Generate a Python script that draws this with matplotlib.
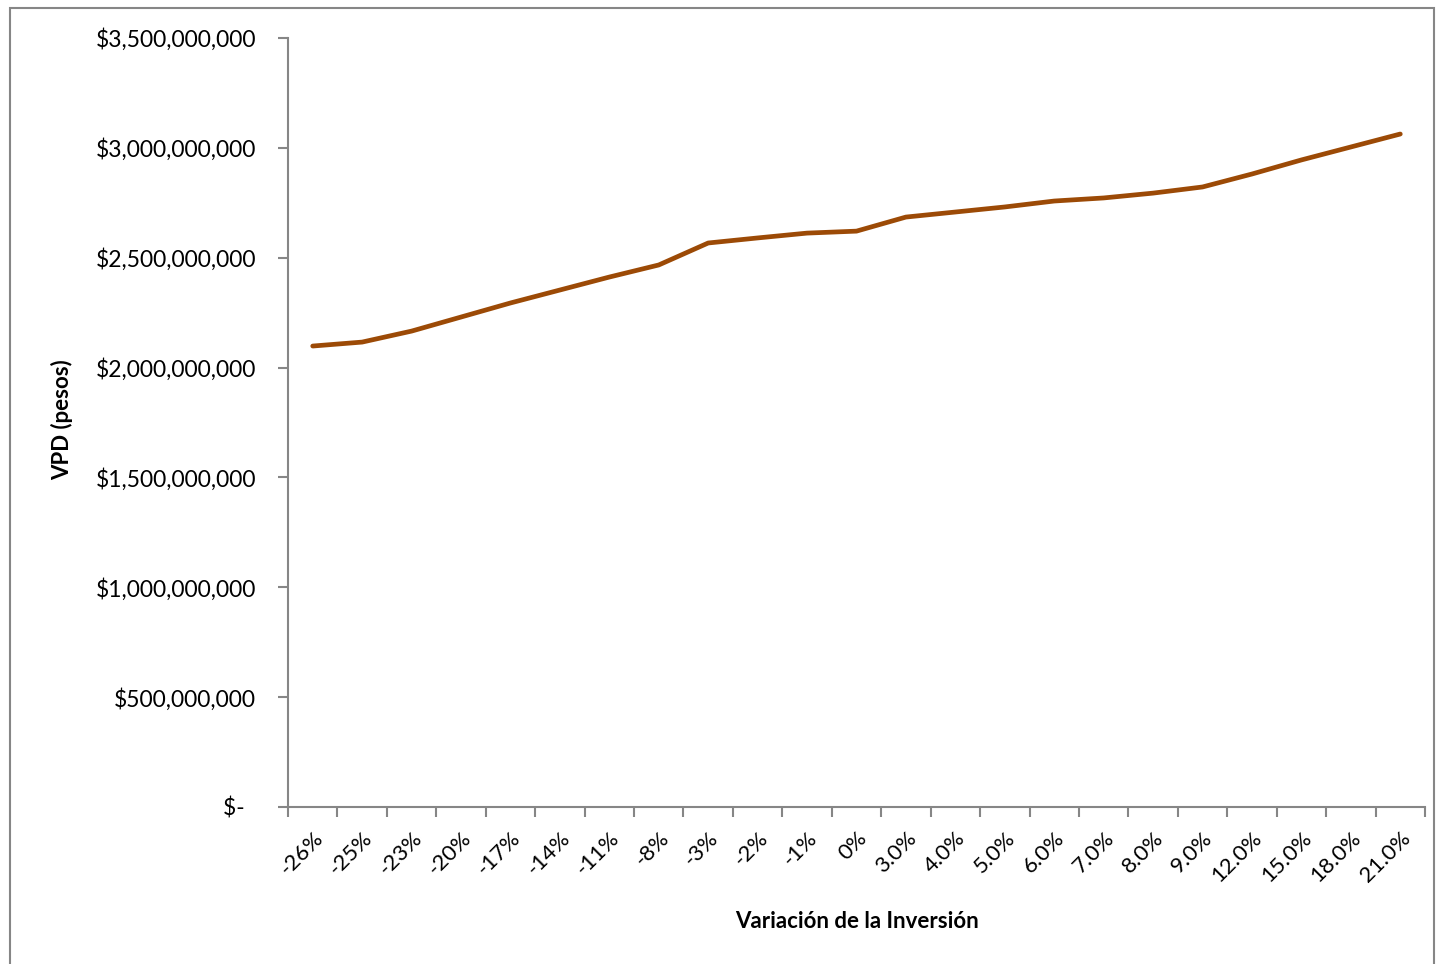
import numpy as np
import matplotlib.pyplot as plt
from matplotlib.patches import Rectangle
from matplotlib.ticker import FuncFormatter, FixedLocator

# variación de la inversión vs VPD
variacion = ['-26%', '-25%', '-23%', '-20%', '-17%', '-14%', '-11%', '-8%',
             '-3%', '-2%', '-1%', '0%', '3.0%', '4.0%', '5.0%', '6.0%',
             '7.0%', '8.0%', '9.0%', '12.0%', '15.0%', '18.0%', '21.0%']
vpd = [2098e6, 2116e6, 2166e6, 2230e6, 2294e6, 2353e6, 2412e6, 2467e6,
       2567e6, 2590e6, 2612e6, 2621e6, 2685e6, 2708e6, 2731e6, 2758e6,
       2772e6, 2794e6, 2822e6, 2881e6, 2945e6, 3004e6, 3063e6]

plt.rcParams['font.family'] = ['Lato', 'DejaVu Sans']
gris = '#868686'

fig = plt.figure(figsize=(14.37, 9.64), dpi=100)
ax = fig.add_axes([288/1437, 1 - 807/964, (1425 - 288)/1437, (807 - 38)/964])

x = np.arange(len(variacion))
ax.plot(x, vpd, color='#9C4A06', lw=3.4, solid_capstyle='round')

ax.set_xlim(-0.5, len(variacion) - 0.5)
ax.set_ylim(0, 3.5e9)
ax.set_yticks(np.arange(0, 3.5e9 + 1, 5e8))

def pesos(v, pos):
    if v == 0:
        return '$-  '
    return '${:,.0f}'.format(v)

ax.yaxis.set_major_formatter(FuncFormatter(pesos))
ax.set_xticks(x)
ax.set_xticklabels(variacion, rotation=45, ha='right', va='top',
                   rotation_mode='anchor')
ax.xaxis.set_minor_locator(FixedLocator(np.arange(-0.5, len(variacion), 1)))
ax.tick_params(axis='x', which='major', length=0, pad=15, labelsize=16)
ax.tick_params(axis='x', which='minor', length=7, width=1.5, color=gris)
ax.tick_params(axis='y', length=7, width=1.5, color=gris, labelsize=16.5,
               pad=16)

for s in ['top', 'right']:
    ax.spines[s].set_visible(False)
for s in ['left', 'bottom']:
    ax.spines[s].set_color(gris)
    ax.spines[s].set_linewidth(1.5)

fig.text(857/1437, 1 - 921/964, 'Variación de la Inversión', ha='center',
         va='center', fontsize=16, fontweight='bold')
fig.text(62/1437, 1 - 420/964, 'VPD (pesos)', ha='center', va='center',
         rotation=90, fontsize=16, fontweight='bold')

# marco exterior del gráfico
fig.patches.append(Rectangle((10/1437, -0.01), (1434 - 10)/1437, 1.01 - 8/964,
                             transform=fig.transFigure, fill=False,
                             edgecolor=gris, lw=1.5))

fig.savefig('out.png', dpi=100)
